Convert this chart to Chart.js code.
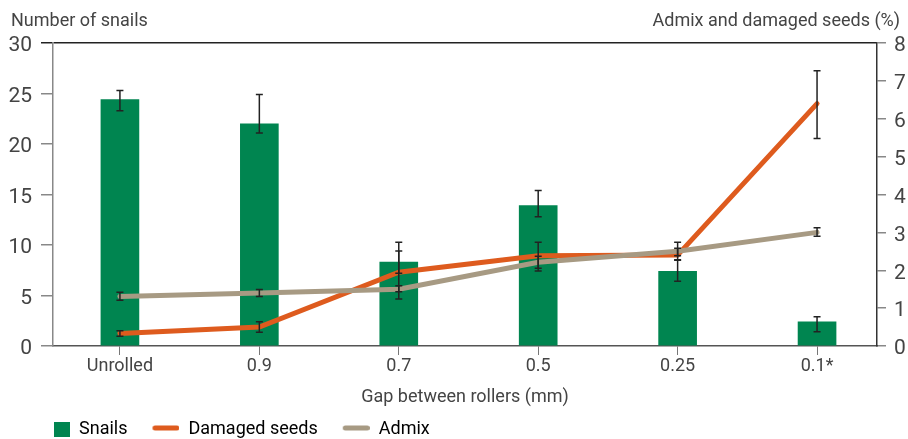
<!DOCTYPE html>
<html>
<head>
<meta charset="utf-8">
<script src="https://cdn.jsdelivr.net/npm/chart.js@4.4.1/dist/chart.umd.min.js"></script>
<style>
    html, body { margin: 0; padding: 0; background: #fff; }
    #wrap { width: 908px; height: 439px; }
</style>
</head>
<body>
<div id="wrap"><canvas id="chart"></canvas></div>
<script>
var gapLabels = ['Unrolled', '0.9', '0.7', '0.5', '0.25', '0.1*'];

var snails = [24.4, 22.0, 8.3, 13.9, 7.4, 2.4];
var snailsLow = [23.3, 21.1, 7.2, 12.8, 6.4, 1.4];
var snailsHigh = [25.3, 24.9, 9.4, 15.4, 8.5, 2.9];

var damagedSeeds = [0.33, 0.5, 1.95, 2.38, 2.4, 6.4];
var damagedLow = [0.26, 0.36, 1.24, 1.98, 2.28, 5.48];
var damagedHigh = [0.40, 0.64, 2.74, 2.74, 2.74, 7.27];

var admix = [1.31, 1.40, 1.5, 2.21, 2.5, 3.0];
var admixLow = [1.21, 1.31, 1.43, 2.05, 2.38, 2.9];
var admixHigh = [1.42, 1.49, 1.59, 2.37, 2.58, 3.12];

var snailColor = '#008550';
var damagedColor = '#DE5B1E';
var admixColor = '#A79A83';

Chart.defaults.font.family = 'Roboto';
Chart.defaults.color = '#444';

function toPoints(values) {
    return values.map(function (v, i) { return { x: i, y: v }; });
}

// legend symbols: drawn into small canvases so box and lines can differ in size
function legendSymbol(kind, color) {
    var c = document.createElement('canvas');
    c.width = 45;
    c.height = 16;
    var g = c.getContext('2d');
    if (kind === 'box') {
        g.fillStyle = color;
        g.fillRect(29, 1, 16, 15);
    } else {
        g.strokeStyle = color;
        g.lineWidth = 5;
        g.lineCap = 'round';
        g.beginPath();
        g.moveTo(20.5, 7);
        g.lineTo(42.5, 7);
        g.stroke();
    }
    return c;
}

var errorBars = {
    id: 'errorBars',
    afterDatasetsDraw: function (chart) {
        var ctx = chart.ctx;
        var xs = chart.scales.x;
        var sets = [
            [chart.scales.y, snailsLow, snailsHigh],
            [chart.scales.y1, damagedLow, damagedHigh],
            [chart.scales.y1, admixLow, admixHigh]
        ];
        ctx.save();
        ctx.strokeStyle = '#222';
        ctx.lineWidth = 1.5;
        sets.forEach(function (s) {
            for (var i = 0; i < gapLabels.length; i++) {
                var px = xs.getPixelForValue(i);
                var top = s[0].getPixelForValue(s[2][i]);
                var bot = s[0].getPixelForValue(s[1][i]);
                ctx.beginPath();
                ctx.moveTo(px, top); ctx.lineTo(px, bot);
                ctx.moveTo(px - 3.5, top); ctx.lineTo(px + 3.5, top);
                ctx.moveTo(px - 3.5, bot); ctx.lineTo(px + 3.5, bot);
                ctx.stroke();
            }
        });
        ctx.restore();
    }
};

var axisTitles = {
    id: 'axisTitles',
    afterLayout: function (chart) {
        // legend starts a bit in from the canvas edge, like the original
        chart.legend.left = 18;
    },
    afterDraw: function (chart) {
        var ctx = chart.ctx;
        ctx.save();
        ctx.font = '18px Roboto';
        ctx.fillStyle = '#444';
        ctx.textBaseline = 'alphabetic';
        ctx.textAlign = 'left';
        ctx.fillText('Number of snails', 11, 26);
        ctx.textAlign = 'right';
        ctx.fillText('Admix and damaged seeds (%)', 900, 26);
        ctx.restore();
    }
};

var chart = new Chart(document.getElementById('chart').getContext('2d'), {
    type: 'bar',
    data: {
        datasets: [
            {
                type: 'bar',
                label: 'Snails',
                data: toPoints(snails),
                backgroundColor: snailColor,
                barThickness: 38,
                yAxisID: 'y',
                order: 2
            },
            {
                type: 'line',
                label: 'Damaged seeds',
                data: toPoints(damagedSeeds),
                borderColor: damagedColor,
                borderWidth: 5,
                borderCapStyle: 'round',
                pointRadius: 0,
                fill: false,
                yAxisID: 'y1',
                order: 1
            },
            {
                type: 'line',
                label: 'Admix',
                data: toPoints(admix),
                borderColor: admixColor,
                borderWidth: 5,
                borderCapStyle: 'round',
                pointRadius: 0,
                fill: false,
                yAxisID: 'y1',
                order: 0
            }
        ]
    },
    options: {
        responsive: true,
        maintainAspectRatio: false,
        animation: false,
        layout: { padding: { left: 0, top: 43, right: 0, bottom: 0 } },
        plugins: {
            tooltip: { enabled: false },
            legend: {
                position: 'bottom',
                align: 'start',
                maxHeight: 26,
                labels: {
                    usePointStyle: true,
                    pointStyleWidth: 45,
                    padding: 7,
                    color: '#444',
                    font: { size: 18 },
                    generateLabels: function () {
                        return [
                            { text: 'Snails', pointStyle: legendSymbol('box', snailColor), lineWidth: 0, datasetIndex: 0 },
                            { text: 'Damaged seeds', pointStyle: legendSymbol('line', damagedColor), lineWidth: 0, datasetIndex: 1 },
                            { text: 'Admix', pointStyle: legendSymbol('line', admixColor), lineWidth: 0, datasetIndex: 2 }
                        ];
                    }
                }
            }
        },
        scales: {
            x: {
                type: 'linear',
                min: -0.48,
                max: 5.43,
                offset: false,
                grid: { offset: false, drawOnChartArea: false, tickLength: 9, color: '#777' },
                border: { color: '#555', width: 1.5 },
                afterBuildTicks: function (scale) {
                    scale.ticks = gapLabels.map(function (l, i) { return { value: i }; });
                },
                afterFit: function (scale) { scale.height = 67; },
                ticks: {
                    autoSkip: false,
                    maxRotation: 0,
                    padding: 1,
                    color: '#444',
                    font: { size: 18 },
                    callback: function (v) { return gapLabels[v]; }
                },
                title: {
                    display: true,
                    text: 'Gap between rollers (mm)',
                    color: '#444',
                    font: { size: 18 },
                    padding: { top: 0, bottom: 5 }
                }
            },
            y: {
                position: 'left',
                min: 0,
                max: 30,
                ticks: { stepSize: 5, padding: 9, labelOffset: 3, color: '#444', font: { size: 21 } },
                grid: {
                    tickLength: 12,
                    lineWidth: 1.5,
                    color: function (c) { return c.tick && c.tick.value === 30 ? '#222' : 'rgba(0,0,0,0)'; },
                    tickColor: function (c) { return c.tick && c.tick.value === 30 ? '#222' : '#888'; }
                },
                border: { color: '#888', width: 1.5 },
                afterFit: function (scale) { scale.width = 53; }
            },
            y1: {
                position: 'right',
                min: 0,
                max: 8,
                ticks: { stepSize: 1, padding: 8, labelOffset: 3, color: '#444', font: { size: 21 } },
                grid: { drawOnChartArea: false, tickLength: 9, tickColor: '#888', lineWidth: 1.5 },
                border: { color: '#333', width: 1.5 },
                afterFit: function (scale) { scale.width = 31; }
            }
        }
    },
    plugins: [errorBars, axisTitles]
});
</script>
</body>
</html>
